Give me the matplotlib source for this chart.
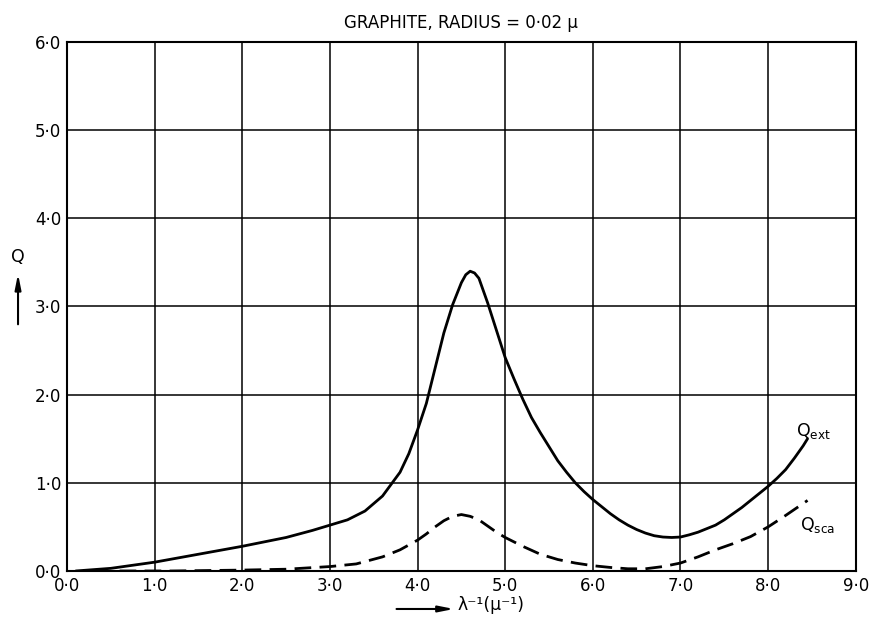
import matplotlib
matplotlib.use('Agg')
from matplotlib import pyplot as plt

plt.rcParams['font.family'] = ['DejaVu Sans']

# values
ext_x = [0.1, 0.5, 1.0, 1.5, 2.0, 2.5, 2.8, 3.0, 3.2, 3.4, 3.6, 3.8, 3.9, 4.0,
         4.1, 4.2, 4.3, 4.4, 4.5, 4.55, 4.6, 4.65, 4.7, 4.8, 4.9, 5.0, 5.1,
         5.2, 5.3, 5.4, 5.5, 5.6, 5.7, 5.8, 5.9, 6.0, 6.1, 6.2, 6.3, 6.4,
         6.5, 6.6, 6.7, 6.8, 6.9, 7.0, 7.1, 7.2, 7.3, 7.4, 7.5, 7.6, 7.7,
         7.8, 7.9, 8.0, 8.1, 8.2, 8.3, 8.4, 8.45]
ext_q = [0.0, 0.03, 0.10, 0.19, 0.28, 0.38, 0.46, 0.52, 0.58, 0.68, 0.85, 1.12, 1.33, 1.6,
         1.9, 2.3, 2.7, 3.02, 3.27, 3.36, 3.40, 3.38, 3.32, 3.04, 2.73, 2.42, 2.18,
         1.95, 1.74, 1.57, 1.41, 1.25, 1.12, 1.0, 0.9, 0.81, 0.73, 0.65, 0.58, 0.52,
         0.47, 0.43, 0.40, 0.385, 0.38, 0.385, 0.41, 0.44, 0.48, 0.52, 0.58, 0.65, 0.72,
         0.80, 0.88, 0.96, 1.05, 1.15, 1.28, 1.42, 1.50]

sca_x = [0.6, 1.2, 2.0, 2.5, 3.0, 3.3, 3.6, 3.8, 4.0, 4.1, 4.2, 4.3, 4.4, 4.5,
         4.6, 4.7, 4.8, 4.9, 5.0, 5.2, 5.4, 5.6, 5.8, 6.0, 6.2, 6.4, 6.6,
         6.8, 7.0, 7.2, 7.4, 7.6, 7.8, 8.0, 8.2, 8.45]
sca_q = [0.0, 0.0, 0.01, 0.02, 0.05, 0.08, 0.16, 0.24, 0.35, 0.42, 0.50, 0.57, 0.62, 0.64,
         0.62, 0.58, 0.51, 0.44, 0.38, 0.28, 0.19, 0.13, 0.09, 0.06, 0.04, 0.025, 0.025,
         0.05, 0.09, 0.16, 0.24, 0.31, 0.39, 0.50, 0.63, 0.80]

xticks = [0, 1, 2, 3, 4, 5, 6, 7, 8, 9]
yticks = [0, 1, 2, 3, 4, 5, 6]

fig = plt.figure(figsize=(8.75, 6.23), dpi=100)
ax = fig.add_axes([0.0766, 0.0835, 0.9014, 0.8491])

ax.plot(ext_x, ext_q, color='black', lw=2.0, solid_capstyle='round', solid_joinstyle='round')
ax.plot(sca_x, sca_q, color='black', lw=2.0, linestyle=(0, (6, 3)))

ax.set_xlim(0, 9)
ax.set_ylim(0, 6)
ax.set_xticks(xticks)
ax.set_yticks(yticks)
ax.set_xticklabels(['%d\u00b70' % v for v in xticks], fontsize=12)
ax.set_yticklabels(['%d\u00b70' % v for v in yticks], fontsize=12)
ax.tick_params(length=0, pad=4)
ax.grid(True, color='black', lw=1.1)
for s in ax.spines.values():
    s.set_linewidth(1.5)

ax.set_title('GRAPHITE, RADIUS = 0\u00b702 \u03bc', fontsize=12, pad=10)

ax.text(8.52, 1.59, r'Q$_{\mathregular{ext}}$', fontsize=12.5, ha='center', va='center')
ax.text(8.56, 0.52, r'Q$_{\mathregular{sca}}$', fontsize=12.5, ha='center', va='center')

# axis labels with arrows, as in the original
fig.text(0.0206, 0.5875, 'Q', fontsize=12.5, ha='center', va='center')
ax.annotate('', xy=(0.0206, 0.565), xytext=(0.0206, 0.475), xycoords='figure fraction',
            arrowprops=dict(arrowstyle='-|>,head_length=0.9,head_width=0.18',
                            color='black', lw=1.5))
ax.annotate('', xy=(0.522, 0.0225), xytext=(0.450, 0.0225), xycoords='figure fraction',
            arrowprops=dict(arrowstyle='-|>,head_length=0.9,head_width=0.18',
                            color='black', lw=1.5))
fig.text(0.523, 0.0285, '\u03bb\u207b\u00b9(\u03bc\u207b\u00b9)', fontsize=12.5,
         ha='left', va='center')

fig.savefig('out.png', dpi=100)
